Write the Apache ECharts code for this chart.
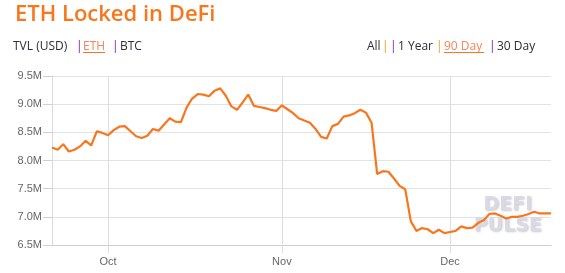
<!DOCTYPE html>
<html><head><meta charset="utf-8">
<script src="https://cdn.jsdelivr.net/npm/echarts@6/dist/echarts.min.js"></script>
<style>html,body{margin:0;padding:0;background:#fff}#c{width:565px;height:273px}</style>
</head><body><div id="c"></div>
<script>
// ---- data ----
const firstDay = '2020-09-21';
const dayCount = 90;
// ETH locked in DeFi, millions of ETH, one value per day
const ethLocked = [
  8.23, 8.19, 8.29, 8.16, 8.19, 8.25, 8.35, 8.27, 8.52, 8.49,
  8.45, 8.54, 8.60, 8.61, 8.52, 8.43, 8.40, 8.44, 8.56, 8.53,
  8.64, 8.75, 8.69, 8.68, 8.94, 9.10, 9.18, 9.17, 9.14, 9.24,
  9.28, 9.15, 8.96, 8.90, 9.03, 9.17, 8.97, 8.95, 8.93, 8.90,
  8.88, 8.98, 8.91, 8.84, 8.75, 8.71, 8.67, 8.56, 8.42, 8.39,
  8.61, 8.65, 8.78, 8.80, 8.84, 8.90, 8.85, 8.67, 7.76, 7.81,
  7.80, 7.68, 7.55, 7.49, 6.92, 6.75, 6.80, 6.78, 6.71, 6.77,
  6.71, 6.73, 6.75, 6.83, 6.80, 6.81, 6.89, 6.94, 7.05, 7.06,
  7.02, 6.97, 7.00, 7.00, 7.02, 7.05, 7.09, 7.06, 7.06, 7.06
];
const yMin = 6.5, yMax = 9.5, yStep = 0.5;
const monthNames = ['Jan','Feb','Mar','Apr','May','Jun','Jul','Aug','Sep','Oct','Nov','Dec'];
const titleText = 'ETH Locked in DeFi';

// ---- build categories (consecutive days) ----
const dates = [];
{
  const d0 = new Date(firstDay + 'T00:00:00Z');
  for (let i = 0; i < dayCount; i++) {
    const d = new Date(d0.getTime() + i * 86400000);
    dates.push(d.toISOString().slice(0, 10));
  }
}
const isMonthStart = (idx) => dates[idx] && dates[idx].slice(8) === '01';

const chart = echarts.init(document.getElementById('c'), null, {renderer: 'canvas'});
const orange = '#f8761c';
const purple = '#7b1fa2';
const font = 'Open Sans, sans-serif';
const txt = (x, y, s, fill, extra) => Object.assign({
  type: 'text', x: x, y: y,
  style: Object.assign({text: s, fill: fill, font: '12px ' + font, textVerticalAlign: 'middle'}, extra || {})
});

chart.setOption({
  animation: false,
  title: {
    text: titleText, left: 10, top: -1,
    textStyle: {color: orange, fontSize: 22, fontWeight: 600, fontFamily: font}
  },
  grid: {left: 52, right: 14, top: 76, bottom: 28},
  xAxis: {
    type: 'category', data: dates, boundaryGap: false,
    axisLine: {lineStyle: {color: '#cfcfcf'}},
    axisTick: {show: true, length: 8, interval: (i) => isMonthStart(i), lineStyle: {color: '#dcdcdc'}},
    splitLine: {show: true, interval: (i) => isMonthStart(i), lineStyle: {color: '#dedede'}},
    axisLabel: {
      interval: (i) => isMonthStart(i), color: '#666', fontSize: 11, margin: 11,
      fontFamily: 'Liberation Sans, Arial, sans-serif',
      formatter: (v) => monthNames[parseInt(v.slice(5, 7), 10) - 1]
    }
  },
  yAxis: {
    type: 'value', min: yMin, max: yMax, interval: yStep,
    axisLine: {show: true, lineStyle: {color: '#dadada'}},
    axisTick: {show: true, length: 9, lineStyle: {color: '#cfcfcf'}},
    splitLine: {lineStyle: {color: '#e2e2e2'}},
    axisLabel: {
      color: '#666', fontSize: 11, margin: 10,
      fontFamily: 'Liberation Sans, Arial, sans-serif',
      formatter: (v) => v.toFixed(1) + 'M'
    }
  },
  series: [{
    type: 'line', data: ethLocked, showSymbol: false, symbol: 'none',
    lineStyle: {color: orange, width: 2.2}, z: 3
  }],
  graphic: [
    // left selector row
    txt(13, 47, 'TVL (USD)', '#2d2d3a'),
    txt(76, 47, '|', purple),
    txt(83, 47, 'ETH', '#f4845f'),
    {type: 'line', shape: {x1: 83, y1: 52.5, x2: 105, y2: 52.5}, style: {stroke: orange, lineWidth: 1}},
    txt(112, 47, '|', purple),
    txt(120, 47, 'BTC', '#2d2d3a'),
    // right selector row
    txt(367, 47, 'All', '#2d2d3a'),
    txt(382, 47, '|', '#e7a21c'),
    txt(390, 47, '|', purple),
    txt(398, 47, '1 Year', '#2d2d3a'),
    txt(436, 47, '|', '#e7a21c'),
    txt(444, 47, '90 Day', '#f4845f'),
    {type: 'line', shape: {x1: 444, y1: 52.5, x2: 484, y2: 52.5}, style: {stroke: orange, lineWidth: 1}},
    txt(489, 47, '|', purple),
    txt(497, 47, '30 Day', '#2d2d3a'),
    // watermark
    {type: 'text', x: 508, y: 205, z: 1, style: {text: 'DEFI', fill: '#dadae4', font: 'bold 19px DejaVu Sans, sans-serif',
      textAlign: 'center', textVerticalAlign: 'middle', textShadowColor: 'rgba(120,120,140,0.4)', textShadowBlur: 2, textShadowOffsetX: 1, textShadowOffsetY: 1}},
    {type: 'text', x: 508, y: 226, z: 1, style: {text: 'PULSE', fill: '#dadae4', font: 'bold 19px DejaVu Sans, sans-serif',
      textAlign: 'center', textVerticalAlign: 'middle', textShadowColor: 'rgba(120,120,140,0.4)', textShadowBlur: 2, textShadowOffsetX: 1, textShadowOffsetY: 1}}
  ]
});
</script>
</body></html>
